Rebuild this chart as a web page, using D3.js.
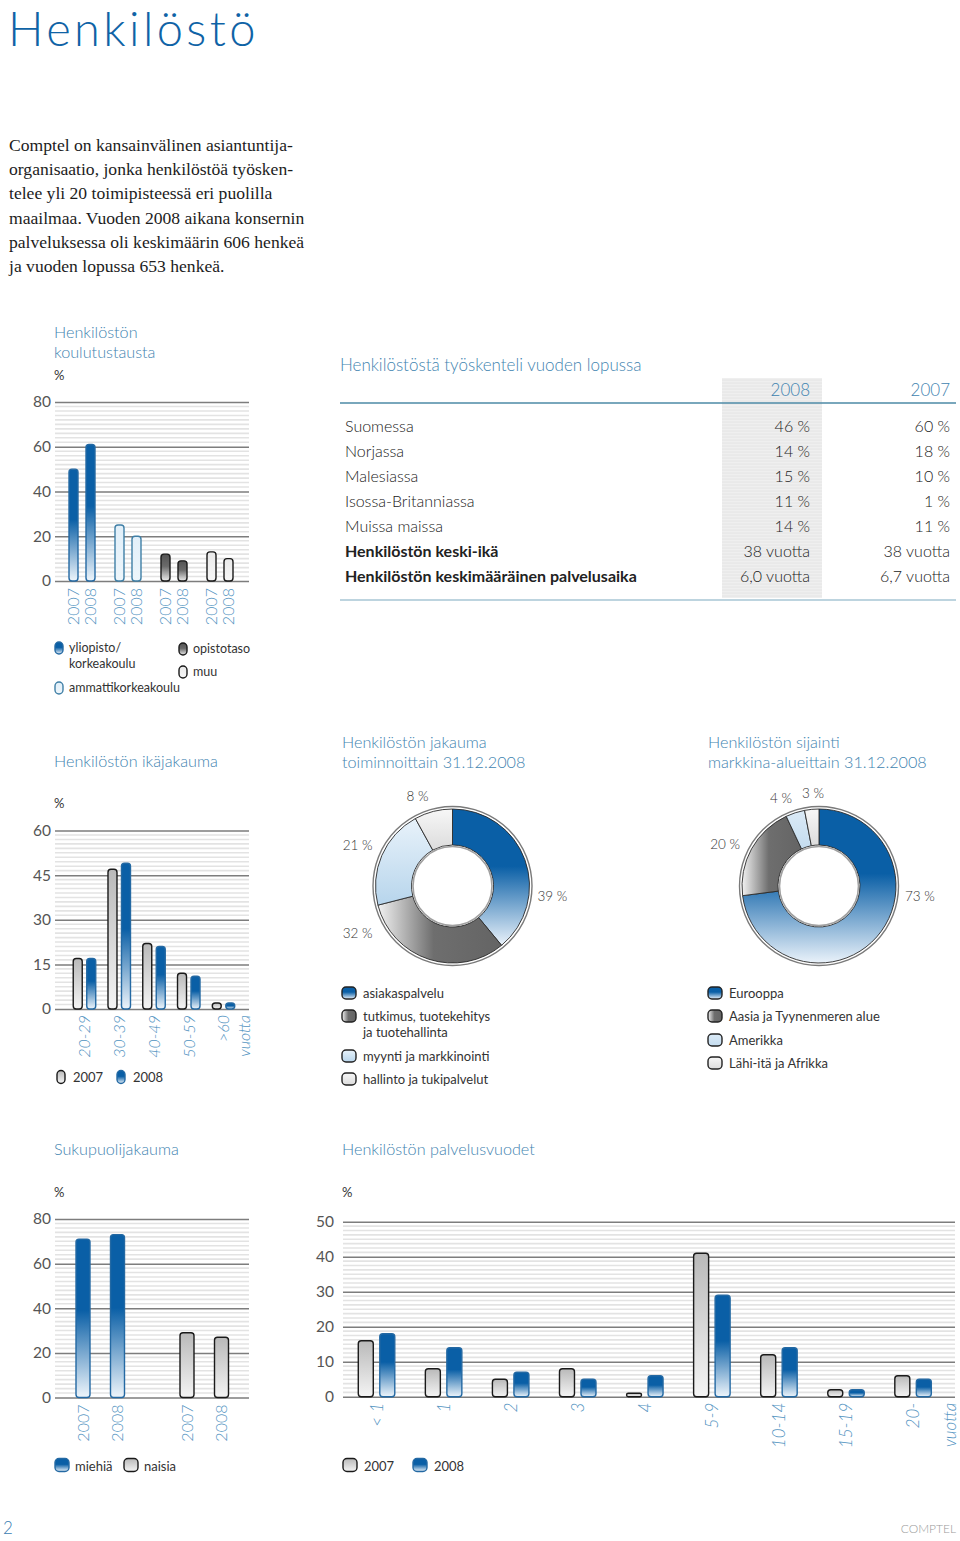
<!DOCTYPE html>
<html><head><meta charset="utf-8">
<script src="https://cdn.jsdelivr.net/npm/d3@7"></script>
<style>
html,body{margin:0;padding:0;background:#fff;}
svg{display:block;}
</style></head><body>
<svg id="page" width="960" height="1541"></svg>
<script>
// ---------------- DATA ----------------
const pageTitle = "Henkilöstö";
const introLines = [
  "Comptel on kansainvälinen asiantuntija-",
  "organisaatio, jonka henkilöstöä työsken-",
  "telee yli 20 toimipisteessä eri puolilla",
  "maailmaa. Vuoden 2008 aikana konsernin",
  "palveluksessa oli keskimäärin 606 henkeä",
  "ja vuoden lopussa 653 henkeä."
];

const years = ["2007", "2008"];

const eduCategories = ["yliopisto/\nkorkeakoulu", "ammattikorkeakoulu", "opistotaso", "muu"];
const edu2007 = [50, 25, 12, 13];
const edu2008 = [61, 20, 9, 10];
const eduTicks = [0, 20, 40, 60, 80];

const tableYears = ["2008", "2007"];
const tableRows = ["Suomessa", "Norjassa", "Malesiassa", "Isossa-Britanniassa", "Muissa maissa",
  "Henkilöstön keski-ikä", "Henkilöstön keskimääräinen palvelusaika"];
const table2008 = ["46 %", "14 %", "15 %", "11 %", "14 %", "38 vuotta", "6,0 vuotta"];
const table2007 = ["60 %", "18 %", "10 %", "1 %", "11 %", "38 vuotta", "6,7 vuotta"];
const tableBold = [false, false, false, false, false, true, true];

const ageGroups = ["20-29", "30-39", "40-49", "50-59", ">60"];
const age2007 = [17, 47, 22, 12, 2];
const age2008 = [17, 49, 21, 11, 2];
const ageTicks = [0, 15, 30, 45, 60];

const functionLabels = ["asiakaspalvelu", "tutkimus, tuotekehitys\nja tuotehallinta", "myynti ja markkinointi", "hallinto ja tukipalvelut"];
const functionShares = [39, 32, 21, 8];

const regionLabels = ["Eurooppa", "Aasia ja Tyynenmeren alue", "Amerikka", "Lähi-itä ja Afrikka"];
const regionShares = [73, 20, 4, 3];

const genderCategories = ["miehiä", "naisia"];
const gender2007 = [71, 29];
const gender2008 = [73, 27];
const genderTicks = [0, 20, 40, 60, 80];

const tenureGroups = ["< 1", "1", "2", "3", "4", "5-9", "10-14", "15-19", "20-"];
const tenure2007 = [16, 8, 5, 8, 1, 41, 12, 2, 6];
const tenure2008 = [18, 14, 7, 5, 6, 29, 14, 2, 5];
const tenureTicks = [0, 10, 20, 30, 40, 50];

// ---------------- STYLE ----------------
const SANS = "Lato, 'Open Sans', sans-serif";
const SERIF = "'Liberation Serif', 'DejaVu Serif', serif";
const TITLE_C = "#3f84b0";
const LABEL_C = "#5293bf";
const TEXT_C = "#333";
const TICK_C = "#555";

const svg = d3.select("#page");
const defs = svg.append("defs");

function linGrad(id, x1, y1, x2, y2, stops) {
  const g = defs.append("linearGradient").attr("id", id)
    .attr("x1", x1).attr("y1", y1).attr("x2", x2).attr("y2", y2);
  stops.forEach(s => g.append("stop").attr("offset", s[0]).attr("stop-color", s[1]));
}
linGrad("gBlue", 0, 0, 0, 1, [[0, "#0a5fa6"], [0.45, "#0a5fa6"], [1, "#eef5fb"]]);
linGrad("gLBlue", 0, 0, 0, 1, [[0, "#e1eff9"], [1, "#eef6fb"]]);
linGrad("gDark", 0, 0, 0, 1, [[0, "#545454"], [0.45, "#6a6a6a"], [1, "#ececec"]]);
linGrad("gMuu", 0, 0, 0, 1, [[0, "#e9e9e9"], [1, "#f7f7f7"]]);
linGrad("gGray", 0, 0, 0, 1, [[0, "#b9b9b9"], [1, "#f4f4f4"]]);
// donut gradients
linGrad("dBlue", 0, 0, 0, 1, [[0, "#0a5fa6"], [0.42, "#0a5fa6"], [1, "#eaf2fa"]]);
linGrad("dDark", 0, 0, 1, 0, [[0, "#f2f2f2"], [0.45, "#6e6e6e"], [1, "#646464"]]);
linGrad("dLBlue", 0, 0, 0, 1, [[0, "#e8f2fa"], [1, "#b7d5ec"]]);
linGrad("dLGray", 0, 0, 0, 1, [[0, "#f7f7f7"], [1, "#dcdcdc"]]);
linGrad("dLBlue2", 0, 0, 0, 1, [[0, "#dbeaf6"], [1, "#c4dcef"]]);

const eduFill = ["url(#gBlue)", "url(#gLBlue)", "url(#gDark)", "url(#gMuu)"];
const eduStroke = ["#2469a3", "#3f7fa6", "#1a1a1a", "#1a1a1a"];
const yearFill = ["url(#gGray)", "url(#gBlue)"];
const yearStroke = ["#1a1a1a", "#2469a3"];
const genderFill = ["url(#gBlue)", "url(#gGray)"];
const genderStroke = ["#2469a3", "#1a1a1a"];
const donutFill = ["url(#dBlue)", "url(#dDark)", "url(#dLBlue)", "url(#dLGray)"];
const donutFill2 = ["url(#dBlue)", "url(#dDark)", "url(#dLBlue2)", "url(#dLGray)"];

// ---------------- HEADER ----------------
svg.append("text").attr("x", 8).attr("y", 46).text(pageTitle)
  .attr("font-family", SANS).attr("font-weight", 300).attr("font-size", 47)
  .attr("letter-spacing", 3.4).attr("fill", "#0f63a6");

svg.append("g").selectAll("text").data(introLines).join("text")
  .attr("x", 9).attr("y", (d, i) => 151 + i * 24.2)
  .attr("font-family", SERIF).attr("font-size", 17.6).attr("fill", "#1c1c1c")
  .text(d => d);

// ---------------- HELPERS ----------------
function title(x, y, lines) {
  svg.append("g").selectAll("text").data(lines).join("text")
    .attr("x", x).attr("y", (d, i) => y + i * 19.5)
    .attr("font-family", SANS).attr("font-weight", 300).attr("font-size", 16.2)
    .attr("fill", TITLE_C).text(d => d);
}

function gridAxis(g, y, x0, x1, max, ticks, minorStep, pad) {
  const minors = d3.range(0, max + 1e-6, minorStep).filter(v => !ticks.some(t => Math.abs(t - v) < 1e-6));
  g.append("g").selectAll("line").data(minors).join("line")
    .attr("x1", x0).attr("x2", x1).attr("y1", d => y(d)).attr("y2", d => y(d))
    .attr("stroke", "#e3e3e3").attr("stroke-width", 1.6);
  const ax = g.append("g").attr("transform", `translate(${x0},0)`)
    .call(d3.axisLeft(y).tickValues(ticks).tickSize(-(x1 - x0)).tickPadding(pad).tickFormat(d3.format("d")));
  ax.select(".domain").remove();
  ax.selectAll(".tick line").attr("stroke", "#7d7d7d").attr("stroke-width", 1.5);
  ax.selectAll(".tick text").attr("font-family", SANS).attr("font-size", 15.5)
    .attr("fill", TICK_C).attr("font-weight", 400);
}

function rotLabel(g, x, y, txt, italic, size) {
  g.append("text").attr("transform", `translate(${x},${y}) rotate(-90)`)
    .attr("text-anchor", "end").attr("dy", "0.36em")
    .attr("font-family", SANS).attr("font-weight", 300).attr("font-size", size || 16)
    .attr("font-style", italic ? "italic" : "normal")
    .attr("fill", LABEL_C).text(txt);
}

function roundBar(g, x, w, yTop, yBase, fill, stroke) {
  const h = yBase - yTop;
  const r = Math.min(3, h / 2, w / 2);
  g.append("rect").attr("x", x).attr("y", yTop).attr("width", w).attr("height", h)
    .attr("rx", r).attr("ry", r)
    .attr("fill", fill).attr("stroke", stroke).attr("stroke-width", 1.4);
}

function legendIcon(g, x, yc, w, h, fill, stroke) {
  g.append("rect").attr("x", x).attr("y", yc - h / 2).attr("width", w).attr("height", h)
    .attr("rx", Math.min(4, w / 2)).attr("fill", fill).attr("stroke", stroke).attr("stroke-width", 1.4);
}
function legendText(g, x, yc, lines, size) {
  lines.forEach((l, i) => g.append("text").attr("x", x).attr("y", yc + i * 16).attr("dy", "0.35em")
    .attr("font-family", SANS).attr("font-weight", 400).attr("font-size", size || 13)
    .attr("fill", TEXT_C).text(l));
}
function pctLabel(g, x, y) {
  g.append("text").attr("x", x).attr("y", y).attr("dy", "0.35em")
    .attr("font-family", SANS).attr("font-size", 13).attr("fill", TEXT_C).text("%");
}

function barChart(cfg) {
  const g = svg.append("g");
  const y = d3.scaleLinear().domain([0, cfg.max]).range([cfg.yBase, cfg.yTop]);
  gridAxis(g, y, cfg.x0, cfg.x1, cfg.max, cfg.ticks, cfg.minor, cfg.pad);
  const xg = d3.scaleBand().domain(cfg.groups.map((d, i) => i)).range(cfg.groupRange);
  const xi = d3.scalePoint().domain(cfg.series.map((d, i) => i)).range([-cfg.inner, cfg.inner]);
  cfg.groups.forEach((grp, gi) => {
    const cx = xg(gi) + xg.bandwidth() / 2;
    cfg.series.forEach((vals, si) => {
      const bx = cx + xi(si);
      roundBar(g, bx - cfg.barW / 2, cfg.barW, y(vals[gi]), y(0), cfg.fill(gi, si), cfg.stroke(gi, si));
      if (cfg.barLabels) rotLabel(g, bx, y(0) + 7, cfg.barLabels[si], false);
    });
    if (cfg.groupLabels) rotLabel(g, cx, y(0) + 6, cfg.groupLabels[gi], true, cfg.labelSize);
  });
  if (cfg.unit) rotLabel(g, cfg.x1 - 5, y(0) + 6, cfg.unit, true, cfg.labelSize);
  return { g, y };
}

// ---------------- CHART 1: koulutustausta ----------------
title(54, 338, ["Henkilöstön", "koulutustausta"]);
pctLabel(svg, 54, 375);
barChart({
  x0: 55, x1: 249, yBase: 581, yTop: 402, max: 80, ticks: eduTicks, minor: 2, pad: 4,
  groups: eduCategories, series: [edu2007, edu2008], groupRange: [59, 243], inner: 8.5, barW: 9,
  fill: (gi) => eduFill[gi], stroke: (gi) => eduStroke[gi], barLabels: years
});
{
  const lg = svg.append("g");
  const pos = [[55, 648], [55, 688], [179, 649], [179, 672]];
  eduCategories.forEach((c, i) => {
    legendIcon(lg, pos[i][0], pos[i][1], 8, 12, eduFill[i], eduStroke[i]);
    legendText(lg, pos[i][0] + 14, pos[i][1], c.split("\n"), 12.5);
  });
}

// ---------------- TABLE ----------------
{
  const tg = svg.append("g");
  tg.append("text").attr("x", 340).attr("y", 365).attr("dy", "0.35em")
    .attr("font-family", SANS).attr("font-weight", 300).attr("font-size", 17).attr("fill", TITLE_C)
    .text("Henkilöstöstä työskenteli vuoden lopussa");
  tg.append("rect").attr("x", 722).attr("y", 378).attr("width", 100).attr("height", 220).attr("fill", "#efefef");
  tg.append("g").selectAll("line").data(d3.range(380, 598, 3)).join("line")
    .attr("x1", 722).attr("x2", 822).attr("y1", d => d).attr("y2", d => d)
    .attr("stroke", "#e4e4e4").attr("stroke-width", 1);
  const colX = [810, 950];
  tableYears.forEach((yr, i) => tg.append("text").attr("x", colX[i]).attr("y", 390).attr("dy", "0.35em")
    .attr("text-anchor", "end").attr("font-family", SANS).attr("font-weight", 300).attr("font-size", 17)
    .attr("fill", TITLE_C).text(yr));
  tg.append("line").attr("x1", 340).attr("x2", 956).attr("y1", 403).attr("y2", 403)
    .attr("stroke", "#4d8aa6").attr("stroke-width", 1.5);
  tg.append("line").attr("x1", 340).attr("x2", 956).attr("y1", 600).attr("y2", 600)
    .attr("stroke", "#a7c6d4").attr("stroke-width", 1.5);
  tableRows.forEach((r, i) => {
    const yy = 426 + i * 25;
    tg.append("text").attr("x", 345).attr("y", yy).attr("dy", "0.35em")
      .attr("font-family", SANS).attr("font-weight", tableBold[i] ? 700 : 300).attr("font-size", 16)
      .attr("fill", "#222").text(r);
    [table2008[i], table2007[i]].forEach((v, j) => tg.append("text").attr("x", colX[j]).attr("y", yy).attr("dy", "0.35em")
      .attr("text-anchor", "end").attr("font-family", SANS).attr("font-weight", 300).attr("font-size", 16)
      .attr("fill", "#222").text(v));
  });
}

// ---------------- CHART 2: ikäjakauma ----------------
title(54, 767, ["Henkilöstön ikäjakauma"]);
pctLabel(svg, 54, 803);
barChart({
  x0: 55, x1: 249, yBase: 1009, yTop: 830.5, max: 60, ticks: ageTicks, minor: 1.5, pad: 4,
  groups: ageGroups, series: [age2007, age2008], groupRange: [67.1, 240.9], inner: 6.75, barW: 9,
  fill: (gi, si) => yearFill[si], stroke: (gi, si) => yearStroke[si], groupLabels: ageGroups, unit: "vuotta"
});
{
  const lg = svg.append("g");
  years.forEach((yr, i) => {
    const x = 57 + i * 60;
    legendIcon(lg, x, 1077, 8, 13, yearFill[i], yearStroke[i]);
    legendText(lg, x + 16, 1077, [yr], 13);
  });
}

// ---------------- DONUTS ----------------
function donut(cx, cy, shares, fills, labels, legendLabels, legendX, legendYs, titleLines, titleX) {
  title(titleX, 748, titleLines);
  const g = svg.append("g").attr("transform", `translate(${cx},${cy})`);
  const pie = d3.pie().sort(null).value(d => d)(shares);
  const arc = d3.arc().innerRadius(41).outerRadius(77);
  g.selectAll("path").data(pie).join("path").attr("d", arc)
    .attr("fill", (d, i) => fills[i]).attr("stroke", "#2a2a2a").attr("stroke-width", 0.9);
  g.append("circle").attr("r", 79.5).attr("fill", "none").attr("stroke", "#7a7a7a").attr("stroke-width", 1.4);
  g.append("circle").attr("r", 39.5).attr("fill", "#fff").attr("stroke", "#a0a0a0").attr("stroke-width", 1.6);
  pie.forEach((p, i) => {
    g.append("text").attr("x", labels[i][0]).attr("y", labels[i][1]).attr("dy", "0.35em")
      .attr("text-anchor", labels[i][2]).attr("font-family", SANS).attr("font-weight", 300)
      .attr("font-size", 13.5).attr("fill", "#333").text(shares[i] + " %");
  });
  const lg = svg.append("g");
  legendLabels.forEach((l, i) => {
    legendIcon(lg, legendX, legendYs[i], 14, 12, fills[i], "#222");
    legendText(lg, legendX + 21, legendYs[i], l.split("\n"), 13);
  });
}
// label offsets relative to donut centre: [dx, dy, anchor]
donut(452.5, 886, functionShares, donutFill,
  [[85, 10, "start"], [-80, 47, "end"], [-80, -41, "end"], [-35, -90, "middle"]],
  functionLabels, 342, [993, 1016, 1056, 1079],
  ["Henkilöstön jakauma", "toiminnoittain 31.12.2008"], 342);
donut(819, 886, regionShares, donutFill2,
  [[86, 10, "start"], [-79, -42, "end"], [-38, -88, "middle"], [-6, -93, "middle"]],
  regionLabels, 708, [993, 1016, 1040, 1063],
  ["Henkilöstön sijainti", "markkina-alueittain 31.12.2008"], 708);

// ---------------- CHART 4: sukupuolijakauma ----------------
title(54, 1155, ["Sukupuolijakauma"]);
pctLabel(svg, 54, 1192);
barChart({
  x0: 55, x1: 249, yBase: 1397.5, yTop: 1219, max: 80, ticks: genderTicks, minor: 2, pad: 4,
  groups: genderCategories, series: [gender2007, gender2008], groupRange: [48.25, 256.25], inner: 17.25, barW: 14,
  fill: (gi) => genderFill[gi], stroke: (gi) => genderStroke[gi], barLabels: years
});
{
  const lg = svg.append("g");
  genderCategories.forEach((c, i) => {
    const x = 55 + i * 69;
    legendIcon(lg, x, 1465, 14, 13, genderFill[i], genderStroke[i]);
    legendText(lg, x + 20, 1466, [c], 13);
  });
}

// ---------------- CHART 5: palvelusvuodet ----------------
title(342, 1155, ["Henkilöstön palvelusvuodet"]);
pctLabel(svg, 342, 1192);
barChart({
  x0: 343, x1: 955, yBase: 1396.7, yTop: 1221.7, max: 50, ticks: tenureTicks, minor: 1.25, pad: 9,
  groups: tenureGroups, series: [tenure2007, tenure2008], groupRange: [343, 946.6], inner: 10.75, barW: 15,
  fill: (gi, si) => yearFill[si], stroke: (gi, si) => yearStroke[si], groupLabels: tenureGroups, unit: "vuotta",
  labelSize: 17
});
{
  const lg = svg.append("g");
  years.forEach((yr, i) => {
    const x = 343 + i * 70;
    legendIcon(lg, x, 1465, 14, 13, yearFill[i], yearStroke[i]);
    legendText(lg, x + 21, 1466, [yr], 13);
  });
}

// ---------------- FOOTER ----------------
svg.append("text").attr("x", 3).attr("y", 1534).attr("font-family", SANS).attr("font-weight", 300)
  .attr("font-size", 17).attr("fill", "#3b7db2").text("2");
svg.append("text").attr("x", 956).attr("y", 1533).attr("text-anchor", "end").attr("font-family", SANS)
  .attr("font-weight", 300).attr("font-size", 12).attr("fill", "#9a9a9a").text("COMPTEL");
</script></body></html>
